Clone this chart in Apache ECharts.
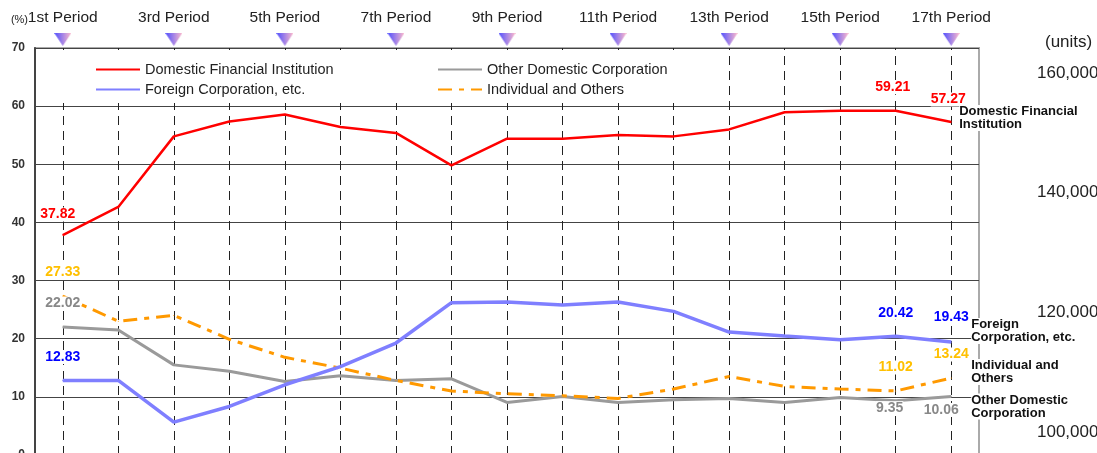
<!DOCTYPE html>
<html>
<head>
<meta charset="utf-8">
<script src="https://cdn.jsdelivr.net/npm/echarts@6/dist/echarts.min.js"></script>
<style>
html, body { margin: 0; padding: 0; background: #fff; }
#chart { width: 1097px; height: 453px; }
</style>
</head>
<body>
<div id="chart"></div>
<script>
// chart values
var periods = ['1st Period', '2nd Period', '3rd Period', '4th Period', '5th Period', '6th Period',
  '7th Period', '8th Period', '9th Period', '10th Period', '11th Period', '12th Period',
  '13th Period', '14th Period', '15th Period', '16th Period', '17th Period'];
var domesticFinancial = [37.82, 42.67, 54.8, 57.35, 58.55, 56.4, 55.4, 49.8, 54.4, 54.4, 55.05, 54.8, 56.0, 58.95, 59.2, 59.21, 57.27];
var foreignCorp = [12.83, 12.83, 5.66, 8.35, 12.08, 15.2, 19.26, 26.2, 26.3, 25.8, 26.3, 24.7, 21.15, 20.45, 19.83, 20.42, 19.43];
var otherDomestic = [22.02, 21.5, 15.5, 14.4, 12.65, 13.63, 12.82, 13.1, 9.04, 10.07, 9.04, 9.5, 9.73, 9.04, 9.9, 9.35, 10.06];
var individual = [27.33, 23.0, 24.0, 19.9, 16.8, 14.95, 12.82, 11.0, 10.53, 10.19, 9.73, 11.34, 13.51, 11.79, 11.34, 11.02, 13.24];
var pctMin = 0, pctMax = 70, pctStep = 10;
var unitMin = 100000, unitMax = 160000, unitStep = 20000;

function triangle() {
  var c = document.createElement('canvas');
  c.width = 17; c.height = 13;
  var ctx = c.getContext('2d');
  var g = ctx.createLinearGradient(0, 0, 17, 0);
  g.addColorStop(0, '#4f4fff');
  g.addColorStop(1, '#ffbccc');
  ctx.fillStyle = g;
  ctx.beginPath();
  ctx.moveTo(0, 0); ctx.lineTo(17, 0); ctx.lineTo(8.5, 13);
  ctx.closePath();
  ctx.fill();
  return c;
}

// which points get a value label, and how it sits
function withLabels(values, marks) {
  return values.map(function (v, i) {
    if (!marks[i]) return v;
    return { value: v, label: Object.assign({ show: true }, marks[i]) };
  });
}

function line(name, values, color, width, dash, labelColor, marks, endText, endDist, endDy) {
  return {
    name: name,
    type: 'line',
    z: 3,
    data: withLabels(values, marks),
    symbol: 'circle',
    symbolSize: 1,
    animation: false,
    itemStyle: { color: color },
    lineStyle: { color: color, width: width, type: dash },
    label: {
      show: false, position: 'top', distance: 16,
      color: labelColor, fontSize: 14, fontWeight: 'bold',
      fontFamily: 'Liberation Sans', backgroundColor: '#fff'
    },
    endLabel: {
      show: true, formatter: endText, position: 'right', distance: endDist, offset: [0, endDy],
      color: '#111', fontSize: 13, lineHeight: 13, fontWeight: 'bold',
      fontFamily: 'Liberation Sans', backgroundColor: '#fff'
    },
    emphasis: { disabled: true }
  };
}

var chart = echarts.init(document.getElementById('chart'), null, { renderer: 'canvas' });

var series = [
  // dashed vertical guide at every period, kept under the lines and labels
  {
    name: 'guides', type: 'line', z: 1, data: [], silent: true,
    markLine: {
      z: 1, silent: true, animation: false,
      symbol: ['none', 'none'],
      label: { show: false },
      lineStyle: { color: '#222', width: 1, type: [9, 6] },
      emphasis: { disabled: true },
      data: periods.map(function (p) { return { xAxis: p }; })
    }
  },
  line('Other Domestic Corporation', otherDomestic, '#9a9a9a', 3, 'solid', '#888', {
    0: {},
    15: { position: 'bottom', distance: 0, offset: [-6, 0] },
    16: { position: 'bottom', distance: 6, offset: [-10, 0] }
  }, 'Other Domestic\nCorporation', 20, 10),
  line('Individual and Others', individual, '#ff9900', 3, [14, 7, 5, 7], '#ffc000', {
    0: {}, 15: {}, 16: {}
  }, 'Individual and\nOthers', 20, -6),
  line('Foreign Corporation, etc.', foreignCorp, '#7f7fff', 3.5, 'solid', '#0000ff', {
    0: {}, 15: {}, 16: { distance: 17 }
  }, 'Foreign\nCorporation, etc.', 20, -11),
  line('Domestic Financial Institution', domesticFinancial, '#ff0000', 2.5, 'solid', '#ff0000', {
    0: { distance: 13, offset: [-5, 0] },
    15: { offset: [-3, 0] },
    16: { distance: 15, offset: [-3, 0] }
  }, 'Domestic Financial\nInstitution', 8, -4)
];

var option = {
  animation: false,
  textStyle: { fontFamily: 'Liberation Sans' },
  grid: [
    { left: 35, right: 118, top: 48, height: 407, outerBoundsMode: 'none', show: true, borderColor: '#aaa', borderWidth: 2 },
    { left: 35, right: 118, top: 73, height: 359, outerBoundsMode: 'none' }
  ],
  legend: [
    {
      data: ['Domestic Financial Institution', 'Foreign Corporation, etc.'],
      orient: 'vertical', left: 37, top: 56,
      padding: [6, 93, 6, 58], itemGap: 5, itemWidth: 44, itemHeight: 14,
      backgroundColor: '#fff', z: 10,
      itemStyle: { opacity: 0 },
      textStyle: { fontSize: 14.5, color: '#222' }
    },
    {
      data: ['Other Domestic Corporation', 'Individual and Others'],
      orient: 'vertical', left: 430, top: 56,
      padding: [6, 50, 6, 7], itemGap: 5, itemWidth: 44, itemHeight: 14,
      backgroundColor: '#fff', z: 10,
      itemStyle: { opacity: 0 },
      textStyle: { fontSize: 14.5, color: '#222' }
    }
  ],
  xAxis: [
    {
      type: 'category', data: periods, position: 'top', gridIndex: 0,
      axisLine: { show: true, lineStyle: { color: '#555', width: 1 } },
      axisTick: { show: false },
      axisLabel: {
        interval: 1, margin: 2,
        formatter: function (v) { return '{a|' + v + '}\n{s| }\n{t| }'; },
        rich: {
          a: { fontSize: 15.5, lineHeight: 20, color: '#222', align: 'center' },
          s: { height: 5, lineHeight: 5, fontSize: 1 },
          t: { width: 17, height: 13, align: 'center', backgroundColor: { image: triangle() } }
        }
      },
      splitLine: { show: false }
    },
    { type: 'category', data: periods, gridIndex: 1, show: false }
  ],
  yAxis: [
    {
      type: 'value', gridIndex: 0, min: pctMin, max: pctMax, interval: pctStep,
      name: '(%)', nameLocation: 'end', nameGap: 28, nameMoveOverlap: false,
      nameTextStyle: { fontSize: 11, color: '#222', align: 'right', verticalAlign: 'middle', padding: [0, 7, 0, 0] },
      axisLine: { show: true, lineStyle: { color: '#444', width: 2 } },
      axisTick: { show: false },
      axisLabel: { fontSize: 12, fontWeight: 'bold', color: '#333', margin: 10 },
      splitLine: { show: true, lineStyle: { color: '#444', width: 1 } }
    },
    {
      type: 'value', gridIndex: 1, position: 'right', min: unitMin, max: unitMax, interval: unitStep,
      name: '(units)', nameLocation: 'end', nameGap: 22, nameMoveOverlap: false,
      nameTextStyle: { fontSize: 17, color: '#222', align: 'left', padding: [0, 0, 0, 66] },
      axisLine: { show: false },
      axisTick: { show: false },
      splitLine: { show: false },
      axisLabel: {
        fontSize: 17, color: '#222', margin: 58, align: 'left',
        formatter: function (v) { return v.toLocaleString('en-US'); }
      }
    }
  ],
  series: series
};

chart.setOption(option);
</script>
</body>
</html>
